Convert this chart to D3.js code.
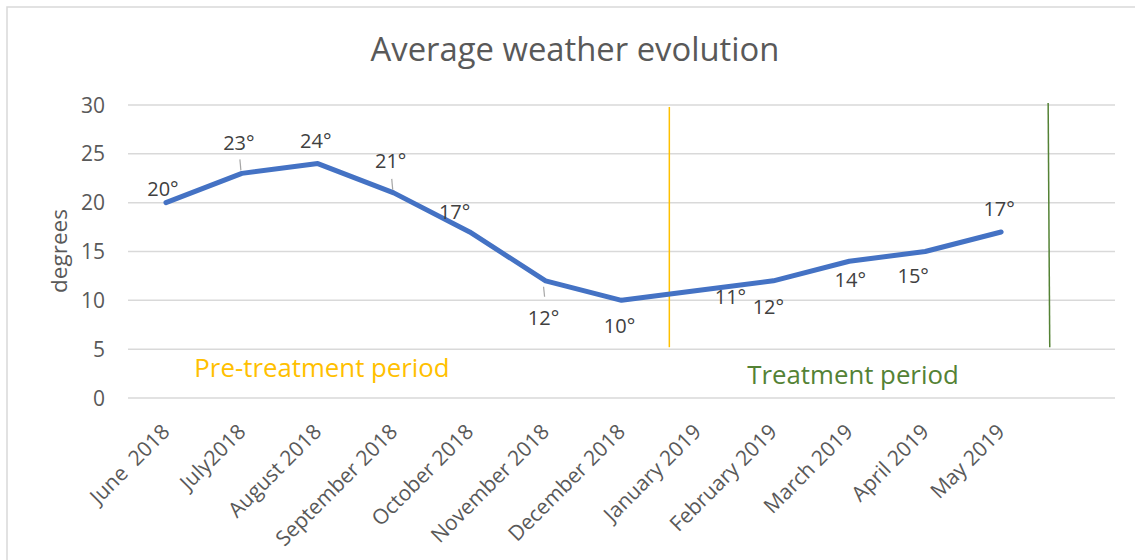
<!DOCTYPE html>
<html>
<head>
<meta charset="utf-8">
<script src="https://cdn.jsdelivr.net/npm/d3@7"></script>
<style>
  body { margin: 0; background: #fff; }
  svg text { font-family: "Open Sans", Lato, sans-serif; white-space: pre; }
</style>
</head>
<body>
<svg id="chart"></svg>
<script>
//chart data
var months = ["June  2018", "July2018", "August 2018", "September 2018", "October 2018", "November 2018",
              "December 2018", "January 2019", "February 2019", "March 2019", "April 2019", "May 2019", ""]
var temps = [20, 23, 24, 21, 17, 12, 10, 11, 12, 14, 15, 17]
var yTicks = [0, 5, 10, 15, 20, 25, 30]

//period markers, in category units along x
var markers = [
    {name: "Pre-treatment period", at: 7.13, from: 5.2, to: 29.8, color: "#FFC000"},
    {name: "Treatment period", at: 12.13, from: 5.2, to: 30.2, color: "#548235"}
]

//label nudges (px) so the data labels sit where the original has them
var labelNudge = [[-3, -14], [-3, -31], [-2, -23], [-3, -32], [-15, -20], [-2, 37],
                  [-2, 25], [33, 6], [-5, 26], [1, 19], [-12, 24], [-2, -23]]

var dimensions = {
    width: 1135,
    height: 560,
    margin: {top: 105, bottom: 162, left: 128, right: 20}
}

var svg = d3.select("#chart")
svg.attr("width", dimensions.width)
   .attr("height", dimensions.height)

//chart frame
svg.append("rect")
   .attr("x", 7).attr("y", 7)
   .attr("width", 1140).attr("height", 560)
   .attr("fill", "none")
   .attr("stroke", "#d9d9d9")
   .attr("stroke-width", 1.5)

var xScale = d3.scaleBand()
               .domain(d3.range(months.length))
               .range([dimensions.margin.left, 1115])
var xPos = i => xScale(i) + xScale.bandwidth() / 2

var yScale = d3.scaleLinear()
               .domain([0, 30])
               .range([398, dimensions.margin.top])

//gridlines
svg.append("g")
   .selectAll("line")
   .data(yTicks)
   .enter()
   .append("line")
   .attr("x1", dimensions.margin.left)
   .attr("x2", 1115)
   .attr("y1", d => yScale(d))
   .attr("y2", d => yScale(d))
   .attr("stroke", "#d9d9d9")
   .attr("stroke-width", 1.5)

//y tick labels
svg.append("g")
   .selectAll("text")
   .data(yTicks)
   .enter()
   .append("text")
   .attr("x", 105)
   .attr("y", d => yScale(d))
   .attr("dy", "0.36em")
   .attr("text-anchor", "end")
   .attr("font-size", 21)
   .attr("fill", "#595959")
   .text(d => d)

//x tick labels
svg.append("g")
   .selectAll("text")
   .data(months)
   .enter()
   .append("text")
   .attr("transform", (d, i) => "translate(" + (xPos(i) + 5) + "," + 433 + ") rotate(-45)")
   .attr("text-anchor", "end")
   .attr("font-size", 21)
   .attr("fill", "#595959")
   .text(d => d)

//axis title
svg.append("text")
   .attr("transform", "translate(67,251) rotate(-90)")
   .attr("text-anchor", "middle")
   .attr("font-size", 22.5)
   .attr("fill", "#595959")
   .text("degrees")

//title
svg.append("text")
   .attr("x", 575)
   .attr("y", 61)
   .attr("text-anchor", "middle")
   .attr("font-size", 32.8)
   .attr("fill", "#595959")
   .text("Average weather evolution")

//period lines
var markerX = v => dimensions.margin.left + v * xScale.step()
svg.append("g")
   .selectAll("line")
   .data(markers)
   .enter()
   .append("line")
   .attr("x1", d => markerX(d.at) - (d.color == "#548235" ? 0.8 : 0))
   .attr("x2", d => markerX(d.at) + (d.color == "#548235" ? 0.8 : 0))
   .attr("y1", d => yScale(d.to))
   .attr("y2", d => yScale(d.from))
   .attr("stroke", d => d.color)
   .attr("stroke-width", 1.5)

//period labels
svg.append("text")
   .attr("x", 322).attr("y", 377)
   .attr("text-anchor", "middle")
   .attr("font-size", 25.8)
   .attr("fill", markers[0].color)
   .text(markers[0].name)

svg.append("text")
   .attr("x", 853).attr("y", 384)
   .attr("text-anchor", "middle")
   .attr("font-size", 25.8)
   .attr("fill", markers[1].color)
   .text(markers[1].name)

//temperature line
var line = d3.line()
             .x((d, i) => xPos(i))
             .y(d => yScale(d))

svg.append("path")
   .datum(temps)
   .attr("d", line)
   .attr("fill", "none")
   .attr("stroke", "#4472C4")
   .attr("stroke-width", 5)
   .attr("stroke-linejoin", "round")
   .attr("stroke-linecap", "round")

//leader lines for labels that were dragged away
var leaders = [1, 3, 5]
svg.append("g")
   .selectAll("line")
   .data(leaders)
   .enter()
   .append("line")
   .attr("x1", i => xPos(i) - 2)
   .attr("x2", i => xPos(i) - 1)
   .attr("y1", i => yScale(temps[i]) + (labelNudge[i][1] < 0 ? -14 : 6))
   .attr("y2", i => yScale(temps[i]) + (labelNudge[i][1] < 0 ? -3 : 16))
   .attr("stroke", "#a6a6a6")
   .attr("stroke-width", 1.2)

//data labels
svg.append("g")
   .selectAll("text")
   .data(temps)
   .enter()
   .append("text")
   .attr("x", (d, i) => xPos(i) + labelNudge[i][0])
   .attr("y", (d, i) => yScale(d) + labelNudge[i][1])
   .attr("dy", "0.36em")
   .attr("text-anchor", "middle")
   .attr("font-size", 20)
   .attr("fill", "#404040")
   .text(d => d + "°")
</script>
</body>
</html>
